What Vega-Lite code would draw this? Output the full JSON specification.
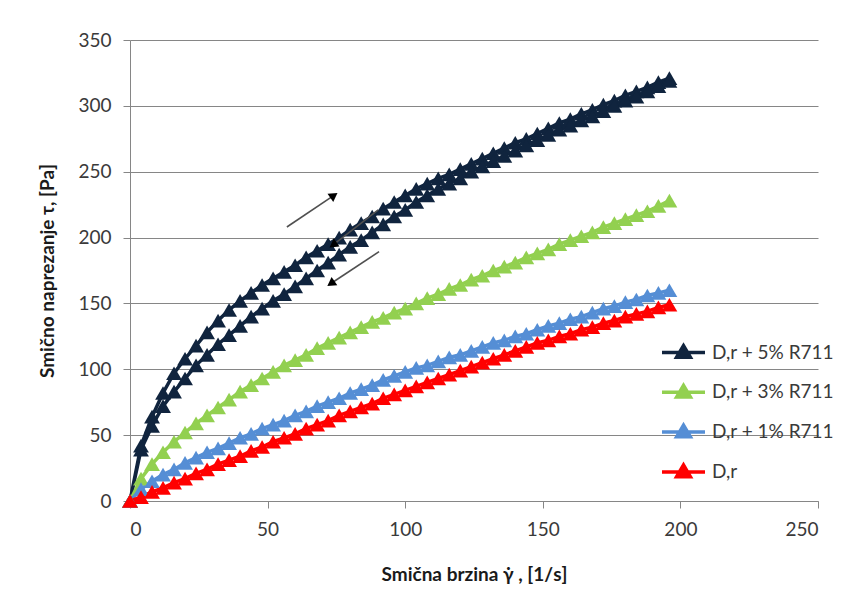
{
  "$schema": "https://vega.github.io/schema/vega-lite/v6.json",
  "width": 688,
  "height": 461,
  "autosize": {"type": "none"},
  "padding": {"left": 130, "top": 40, "right": 42, "bottom": 93},
  "background": "white",
  "config": {
    "view": {"stroke": null},
    "font": "Lato",
    "axis": {
      "labelFont": "Lato",
      "labelFontSize": 19,
      "labelColor": "#3a3a3a",
      "tickSize": 7,
      "tickColor": "#868686",
      "domainColor": "#868686",
      "gridColor": "#868686",
      "labelPadding": 12,
      "titleFont": "Lato",
      "titleFontSize": 19,
      "titleFontWeight": "bold",
      "titleColor": "#1a1a1a"
    }
  },
  "layer": [
    {
      "data": {
        "values": [
          {"s":"D,r + 5% R711","x":0,"y":0},{"s":"D,r + 5% R711","x":4,"y":42},{"s":"D,r + 5% R711","x":8,"y":64},{"s":"D,r + 5% R711","x":12,"y":82},{"s":"D,r + 5% R711","x":16,"y":97},{"s":"D,r + 5% R711","x":20,"y":108},{"s":"D,r + 5% R711","x":24,"y":118},{"s":"D,r + 5% R711","x":28,"y":128},{"s":"D,r + 5% R711","x":32,"y":137},{"s":"D,r + 5% R711","x":36,"y":145},{"s":"D,r + 5% R711","x":40,"y":152},{"s":"D,r + 5% R711","x":44,"y":158},{"s":"D,r + 5% R711","x":48,"y":164},{"s":"D,r + 5% R711","x":52,"y":169},{"s":"D,r + 5% R711","x":56,"y":174},{"s":"D,r + 5% R711","x":60,"y":179},{"s":"D,r + 5% R711","x":64,"y":185},{"s":"D,r + 5% R711","x":68,"y":190},{"s":"D,r + 5% R711","x":72,"y":195},{"s":"D,r + 5% R711","x":76,"y":200},{"s":"D,r + 5% R711","x":80,"y":206},{"s":"D,r + 5% R711","x":84,"y":211},{"s":"D,r + 5% R711","x":88,"y":216},{"s":"D,r + 5% R711","x":92,"y":222},{"s":"D,r + 5% R711","x":96,"y":227},{"s":"D,r + 5% R711","x":100,"y":232},{"s":"D,r + 5% R711","x":104,"y":237},{"s":"D,r + 5% R711","x":108,"y":241},{"s":"D,r + 5% R711","x":112,"y":245},{"s":"D,r + 5% R711","x":116,"y":248},{"s":"D,r + 5% R711","x":120,"y":252},{"s":"D,r + 5% R711","x":124,"y":256},{"s":"D,r + 5% R711","x":128,"y":260},{"s":"D,r + 5% R711","x":132,"y":264},{"s":"D,r + 5% R711","x":136,"y":268},{"s":"D,r + 5% R711","x":140,"y":272},{"s":"D,r + 5% R711","x":144,"y":275},{"s":"D,r + 5% R711","x":148,"y":279},{"s":"D,r + 5% R711","x":152,"y":283},{"s":"D,r + 5% R711","x":156,"y":287},{"s":"D,r + 5% R711","x":160,"y":290},{"s":"D,r + 5% R711","x":164,"y":294},{"s":"D,r + 5% R711","x":168,"y":297},{"s":"D,r + 5% R711","x":172,"y":301},{"s":"D,r + 5% R711","x":176,"y":304},{"s":"D,r + 5% R711","x":180,"y":308},{"s":"D,r + 5% R711","x":184,"y":311},{"s":"D,r + 5% R711","x":188,"y":314},{"s":"D,r + 5% R711","x":192,"y":318},{"s":"D,r + 5% R711","x":196,"y":321},
          {"s":"D,r + 5% R711","x":196,"y":319},{"s":"D,r + 5% R711","x":192,"y":315},{"s":"D,r + 5% R711","x":188,"y":311},{"s":"D,r + 5% R711","x":184,"y":307},{"s":"D,r + 5% R711","x":180,"y":304},{"s":"D,r + 5% R711","x":176,"y":300},{"s":"D,r + 5% R711","x":172,"y":296},{"s":"D,r + 5% R711","x":168,"y":292},{"s":"D,r + 5% R711","x":164,"y":289},{"s":"D,r + 5% R711","x":160,"y":285},{"s":"D,r + 5% R711","x":156,"y":282},{"s":"D,r + 5% R711","x":152,"y":278},{"s":"D,r + 5% R711","x":148,"y":274},{"s":"D,r + 5% R711","x":144,"y":270},{"s":"D,r + 5% R711","x":140,"y":266},{"s":"D,r + 5% R711","x":136,"y":262},{"s":"D,r + 5% R711","x":132,"y":258},{"s":"D,r + 5% R711","x":128,"y":254},{"s":"D,r + 5% R711","x":124,"y":250},{"s":"D,r + 5% R711","x":120,"y":245},{"s":"D,r + 5% R711","x":116,"y":241},{"s":"D,r + 5% R711","x":112,"y":237},{"s":"D,r + 5% R711","x":108,"y":232},{"s":"D,r + 5% R711","x":104,"y":227},{"s":"D,r + 5% R711","x":100,"y":221},{"s":"D,r + 5% R711","x":96,"y":216},{"s":"D,r + 5% R711","x":92,"y":210},{"s":"D,r + 5% R711","x":88,"y":204},{"s":"D,r + 5% R711","x":84,"y":198},{"s":"D,r + 5% R711","x":80,"y":193},{"s":"D,r + 5% R711","x":76,"y":187},{"s":"D,r + 5% R711","x":72,"y":181},{"s":"D,r + 5% R711","x":68,"y":175},{"s":"D,r + 5% R711","x":64,"y":169},{"s":"D,r + 5% R711","x":60,"y":163},{"s":"D,r + 5% R711","x":56,"y":157},{"s":"D,r + 5% R711","x":52,"y":152},{"s":"D,r + 5% R711","x":48,"y":146},{"s":"D,r + 5% R711","x":44,"y":140},{"s":"D,r + 5% R711","x":40,"y":133},{"s":"D,r + 5% R711","x":36,"y":126},{"s":"D,r + 5% R711","x":32,"y":119},{"s":"D,r + 5% R711","x":28,"y":111},{"s":"D,r + 5% R711","x":24,"y":103},{"s":"D,r + 5% R711","x":20,"y":93},{"s":"D,r + 5% R711","x":16,"y":83},{"s":"D,r + 5% R711","x":12,"y":72},{"s":"D,r + 5% R711","x":8,"y":57},{"s":"D,r + 5% R711","x":4,"y":39},{"s":"D,r + 5% R711","x":0,"y":0},
          {"s":"D,r + 3% R711","x":0,"y":0},{"s":"D,r + 3% R711","x":4,"y":17},{"s":"D,r + 3% R711","x":8,"y":28},{"s":"D,r + 3% R711","x":12,"y":37},{"s":"D,r + 3% R711","x":16,"y":45},{"s":"D,r + 3% R711","x":20,"y":52},{"s":"D,r + 3% R711","x":24,"y":59},{"s":"D,r + 3% R711","x":28,"y":65},{"s":"D,r + 3% R711","x":32,"y":71},{"s":"D,r + 3% R711","x":36,"y":77},{"s":"D,r + 3% R711","x":40,"y":83},{"s":"D,r + 3% R711","x":44,"y":88},{"s":"D,r + 3% R711","x":48,"y":93},{"s":"D,r + 3% R711","x":52,"y":98},{"s":"D,r + 3% R711","x":56,"y":103},{"s":"D,r + 3% R711","x":60,"y":107},{"s":"D,r + 3% R711","x":64,"y":111},{"s":"D,r + 3% R711","x":68,"y":116},{"s":"D,r + 3% R711","x":72,"y":120},{"s":"D,r + 3% R711","x":76,"y":124},{"s":"D,r + 3% R711","x":80,"y":128},{"s":"D,r + 3% R711","x":84,"y":132},{"s":"D,r + 3% R711","x":88,"y":136},{"s":"D,r + 3% R711","x":92,"y":139},{"s":"D,r + 3% R711","x":96,"y":143},{"s":"D,r + 3% R711","x":100,"y":146},{"s":"D,r + 3% R711","x":104,"y":150},{"s":"D,r + 3% R711","x":108,"y":154},{"s":"D,r + 3% R711","x":112,"y":157},{"s":"D,r + 3% R711","x":116,"y":161},{"s":"D,r + 3% R711","x":120,"y":164},{"s":"D,r + 3% R711","x":124,"y":168},{"s":"D,r + 3% R711","x":128,"y":171},{"s":"D,r + 3% R711","x":132,"y":175},{"s":"D,r + 3% R711","x":136,"y":178},{"s":"D,r + 3% R711","x":140,"y":181},{"s":"D,r + 3% R711","x":144,"y":185},{"s":"D,r + 3% R711","x":148,"y":188},{"s":"D,r + 3% R711","x":152,"y":191},{"s":"D,r + 3% R711","x":156,"y":195},{"s":"D,r + 3% R711","x":160,"y":198},{"s":"D,r + 3% R711","x":164,"y":201},{"s":"D,r + 3% R711","x":168,"y":204},{"s":"D,r + 3% R711","x":172,"y":208},{"s":"D,r + 3% R711","x":176,"y":211},{"s":"D,r + 3% R711","x":180,"y":214},{"s":"D,r + 3% R711","x":184,"y":217},{"s":"D,r + 3% R711","x":188,"y":220},{"s":"D,r + 3% R711","x":192,"y":224},{"s":"D,r + 3% R711","x":196,"y":228},
          {"s":"D,r + 1% R711","x":0,"y":0},{"s":"D,r + 1% R711","x":4,"y":9},{"s":"D,r + 1% R711","x":8,"y":15},{"s":"D,r + 1% R711","x":12,"y":20},{"s":"D,r + 1% R711","x":16,"y":24},{"s":"D,r + 1% R711","x":20,"y":29},{"s":"D,r + 1% R711","x":24,"y":33},{"s":"D,r + 1% R711","x":28,"y":37},{"s":"D,r + 1% R711","x":32,"y":40},{"s":"D,r + 1% R711","x":36,"y":44},{"s":"D,r + 1% R711","x":40,"y":48},{"s":"D,r + 1% R711","x":44,"y":51},{"s":"D,r + 1% R711","x":48,"y":55},{"s":"D,r + 1% R711","x":52,"y":58},{"s":"D,r + 1% R711","x":56,"y":61},{"s":"D,r + 1% R711","x":60,"y":65},{"s":"D,r + 1% R711","x":64,"y":68},{"s":"D,r + 1% R711","x":68,"y":72},{"s":"D,r + 1% R711","x":72,"y":75},{"s":"D,r + 1% R711","x":76,"y":78},{"s":"D,r + 1% R711","x":80,"y":82},{"s":"D,r + 1% R711","x":84,"y":85},{"s":"D,r + 1% R711","x":88,"y":88},{"s":"D,r + 1% R711","x":92,"y":92},{"s":"D,r + 1% R711","x":96,"y":95},{"s":"D,r + 1% R711","x":100,"y":98},{"s":"D,r + 1% R711","x":104,"y":101},{"s":"D,r + 1% R711","x":108,"y":103},{"s":"D,r + 1% R711","x":112,"y":106},{"s":"D,r + 1% R711","x":116,"y":109},{"s":"D,r + 1% R711","x":120,"y":111},{"s":"D,r + 1% R711","x":124,"y":114},{"s":"D,r + 1% R711","x":128,"y":117},{"s":"D,r + 1% R711","x":132,"y":120},{"s":"D,r + 1% R711","x":136,"y":122},{"s":"D,r + 1% R711","x":140,"y":125},{"s":"D,r + 1% R711","x":144,"y":127},{"s":"D,r + 1% R711","x":148,"y":130},{"s":"D,r + 1% R711","x":152,"y":133},{"s":"D,r + 1% R711","x":156,"y":135},{"s":"D,r + 1% R711","x":160,"y":138},{"s":"D,r + 1% R711","x":164,"y":140},{"s":"D,r + 1% R711","x":168,"y":143},{"s":"D,r + 1% R711","x":172,"y":146},{"s":"D,r + 1% R711","x":176,"y":148},{"s":"D,r + 1% R711","x":180,"y":151},{"s":"D,r + 1% R711","x":184,"y":153},{"s":"D,r + 1% R711","x":188,"y":156},{"s":"D,r + 1% R711","x":192,"y":158},{"s":"D,r + 1% R711","x":196,"y":160},
          {"s":"D,r","x":0,"y":0},{"s":"D,r","x":4,"y":3},{"s":"D,r","x":8,"y":7},{"s":"D,r","x":12,"y":10},{"s":"D,r","x":16,"y":14},{"s":"D,r","x":20,"y":17},{"s":"D,r","x":24,"y":21},{"s":"D,r","x":28,"y":24},{"s":"D,r","x":32,"y":28},{"s":"D,r","x":36,"y":31},{"s":"D,r","x":40,"y":34},{"s":"D,r","x":44,"y":38},{"s":"D,r","x":48,"y":41},{"s":"D,r","x":52,"y":45},{"s":"D,r","x":56,"y":48},{"s":"D,r","x":60,"y":51},{"s":"D,r","x":64,"y":55},{"s":"D,r","x":68,"y":58},{"s":"D,r","x":72,"y":61},{"s":"D,r","x":76,"y":65},{"s":"D,r","x":80,"y":68},{"s":"D,r","x":84,"y":71},{"s":"D,r","x":88,"y":74},{"s":"D,r","x":92,"y":78},{"s":"D,r","x":96,"y":81},{"s":"D,r","x":100,"y":84},{"s":"D,r","x":104,"y":87},{"s":"D,r","x":108,"y":90},{"s":"D,r","x":112,"y":93},{"s":"D,r","x":116,"y":96},{"s":"D,r","x":120,"y":99},{"s":"D,r","x":124,"y":102},{"s":"D,r","x":128,"y":105},{"s":"D,r","x":132,"y":108},{"s":"D,r","x":136,"y":111},{"s":"D,r","x":140,"y":114},{"s":"D,r","x":144,"y":117},{"s":"D,r","x":148,"y":120},{"s":"D,r","x":152,"y":122},{"s":"D,r","x":156,"y":125},{"s":"D,r","x":160,"y":127},{"s":"D,r","x":164,"y":130},{"s":"D,r","x":168,"y":132},{"s":"D,r","x":172,"y":135},{"s":"D,r","x":176,"y":137},{"s":"D,r","x":180,"y":140},{"s":"D,r","x":184,"y":142},{"s":"D,r","x":188,"y":144},{"s":"D,r","x":192,"y":147},{"s":"D,r","x":196,"y":149}
        ]
      },
      "mark": {"type": "line", "strokeWidth": 3.5, "point": {"shape": "triangle-up", "size": 250, "filled": true, "opacity": 1}},
      "encoding": {
        "x": {"field": "x", "type": "quantitative", "scale": {"domain": [0, 250], "nice": false},
          "axis": {"values": [0, 50, 100, 150, 200, 250], "grid": false, "title": "Smična brzina γ̇ , [1/s]", "titlePadding": 26}},
        "y": {"field": "y", "type": "quantitative", "scale": {"domain": [0, 350], "nice": false},
          "axis": {"values": [0, 50, 100, 150, 200, 250, 300, 350], "grid": true, "title": "Smično naprezanje τ, [Pa]", "titlePadding": 20}},
        "color": {"field": "s", "type": "nominal",
          "scale": {"domain": ["D,r + 5% R711", "D,r + 3% R711", "D,r + 1% R711", "D,r"], "range": ["#10243E", "#92D050", "#558ED5", "#FF0000"]},
          "legend": {
            "orient": "none", "legendX": 530, "legendY": 289, "title": null, "padding": 0,
            "symbolType": "M-1,0H1M-0.32,0.22L0,-0.32L0.32,0.22Z",
            "symbolSize": 1849, "symbolStrokeWidth": 3.5,
            "labelFont": "Lato", "labelFontSize": 19, "labelColor": "#3a3a3a", "labelOffset": 5, "rowPadding": 3.8,
            "encode": {"symbols": {"update": {"fill": {"scale": "color", "field": "value"}, "stroke": {"scale": "color", "field": "value"}, "opacity": {"value": 1}}}}
          }},
        "order": {"value": null}
      }
    },
    {
      "data": {"values": [
        {"x": 57.0, "y": 208, "x2": 74.1, "y2": 232},
        {"x": 90.2, "y": 221, "x2": 73.8, "y2": 194.4},
        {"x": 90.5, "y": 189.3, "x2": 73.0, "y2": 165.1}
      ]},
      "mark": {"type": "rule", "color": "#505050", "strokeWidth": 1.6},
      "encoding": {
        "x": {"field": "x", "type": "quantitative"},
        "y": {"field": "y", "type": "quantitative"},
        "x2": {"field": "x2"},
        "y2": {"field": "y2"}
      }
    },
    {
      "data": {"values": [{"x": 74.1, "y": 232}]},
      "mark": {"type": "point", "shape": "triangle-up", "filled": true, "color": "black", "size": 100, "angle": 55, "opacity": 1},
      "encoding": {
        "x": {"field": "x", "type": "quantitative"},
        "y": {"field": "y", "type": "quantitative"}
      }
    },
    {
      "data": {"values": [{"x": 73.8, "y": 194.4}, {"x": 73.0, "y": 165.1}]},
      "mark": {"type": "point", "shape": "triangle-up", "filled": true, "color": "black", "size": 100, "angle": 235, "opacity": 1},
      "encoding": {
        "x": {"field": "x", "type": "quantitative"},
        "y": {"field": "y", "type": "quantitative"}
      }
    }
  ]
}
